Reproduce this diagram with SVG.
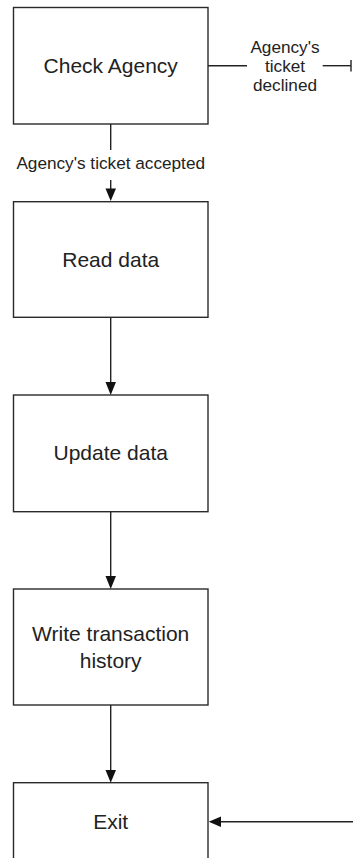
<svg xmlns="http://www.w3.org/2000/svg" width="353" height="858" viewBox="0 0 353 858">
<style>
.box{fill:#fff;stroke:#2a2a2a;stroke-width:1.4}
.t{font-family:"Liberation Sans",Arial,sans-serif;font-size:21px;fill:#222;text-anchor:middle}
.l{font-family:"Liberation Sans",Arial,sans-serif;font-size:17.2px;fill:#222;text-anchor:middle}
.c{stroke:#222;stroke-width:1.4;fill:none}
.ah{fill:#111}
</style>
<rect width="353" height="858" fill="#fff"/>
<g id="check-agency"><rect class="box" x="13.5" y="7.5" width="194.5" height="116.5"/><text class="t" x="110.7" y="72.5">Check Agency</text></g>
<g id="read-data"><rect class="box" x="13.5" y="201.7" width="194.5" height="115.6"/><text class="t" x="110.7" y="266.5">Read data</text></g>
<g id="update-data"><rect class="box" x="13.5" y="395" width="194.5" height="116.7"/><text class="t" x="110.7" y="460">Update data</text></g>
<g id="write-history"><rect class="box" x="13.5" y="589" width="194.5" height="116"/><text class="t" x="110.7" y="640.5">Write transaction</text><text class="t" x="110.7" y="667.5">history</text></g>
<g id="exit"><rect class="box" x="13.5" y="782.7" width="194.5" height="90"/><text class="t" x="110.7" y="829">Exit</text></g>
<g id="connectors">
<line class="c" x1="208" y1="65.7" x2="247" y2="65.7"/>
<line class="c" x1="322.7" y1="65.7" x2="351" y2="65.7"/>
<line class="c" x1="351" y1="60" x2="351" y2="71.5"/>
<text class="l" x="285" y="53">Agency's</text>
<text class="l" x="285" y="72">ticket</text>
<text class="l" x="285" y="91">declined</text>
<line class="c" x1="110.7" y1="124" x2="110.7" y2="150"/>
<text class="l" x="110.7" y="169">Agency's ticket accepted</text>
<line class="c" x1="110.7" y1="180" x2="110.7" y2="190"/>
<polygon class="ah" points="105.5,188.5 116,188.5 110.7,201"/>
<line class="c" x1="110.7" y1="317.3" x2="110.7" y2="384"/>
<polygon class="ah" points="105.5,382 116,382 110.7,395"/>
<line class="c" x1="110.7" y1="511.7" x2="110.7" y2="578"/>
<polygon class="ah" points="105.5,576 116,576 110.7,589"/>
<line class="c" x1="110.7" y1="705" x2="110.7" y2="772"/>
<polygon class="ah" points="105.5,770 116,770 110.7,782.7"/>
<line class="c" x1="219" y1="821.7" x2="353" y2="821.7"/>
<polygon class="ah" points="208.7,821.7 221,816.5 221,827"/>
</g>
</svg>
